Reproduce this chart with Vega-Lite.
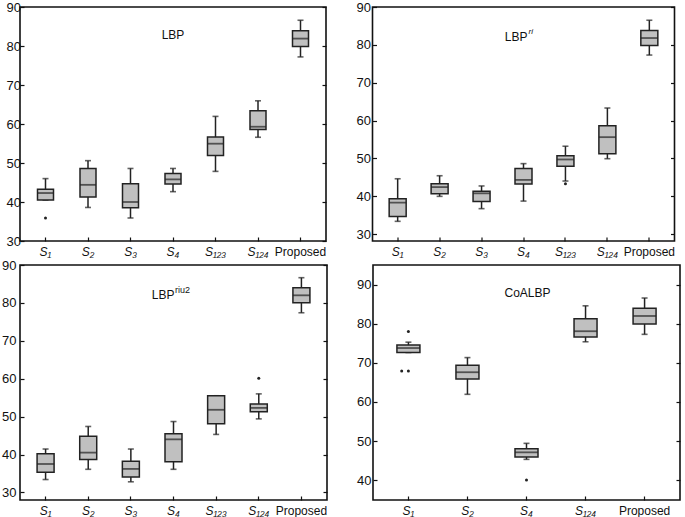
{
  "$schema": "https://vega.github.io/schema/vega-lite/v6.json",
  "padding": {"left": 0, "top": 0, "right": 1, "bottom": 0},
  "background": "white",
  "config": {
    "view": {"stroke": "#111", "strokeWidth": 1.6},
    "axis": {"domain": false, "grid": false, "title": null, "labelFont": "Liberation Sans", "labelColor": "#111", "tickColor": "#111", "tickSize": -4, "tickWidth": 1.2},
    "axisX": {"labelAngle": 0, "labelFontSize": 12, "labelPadding": 9},
    "axisY": {"labelFontSize": 13},
    "text": {"font": "Liberation Sans", "color": "#111"}
  },
  "datasets": {
    "b1": [
      {"c": "S₁", "lo": 40.5, "q1": 40.5, "md": 42.3, "q3": 43.25, "hi": 46.0},
      {"c": "S₂", "lo": 38.6, "q1": 41.3, "md": 44.4, "q3": 48.6, "hi": 50.6},
      {"c": "S₃", "lo": 35.9, "q1": 38.55, "md": 40.0, "q3": 44.7, "hi": 48.6},
      {"c": "S₄", "lo": 42.65, "q1": 44.6, "md": 45.8, "q3": 47.3, "hi": 48.6},
      {"c": "S₁₂₃", "lo": 47.85, "q1": 51.95, "md": 54.95, "q3": 56.65, "hi": 61.95},
      {"c": "S₁₂₄", "lo": 56.6, "q1": 58.6, "md": 59.3, "q3": 63.4, "hi": 65.95},
      {"c": "Proposed", "lo": 77.2, "q1": 79.85, "md": 81.9, "q3": 83.9, "hi": 86.6}
    ],
    "o1": [{"c": "S₁", "v": 35.9}],
    "b2": [
      {"c": "S₁", "lo": 33.35, "q1": 34.6, "md": 38.3, "q3": 39.3, "hi": 44.6},
      {"c": "S₂", "lo": 39.95, "q1": 40.65, "md": 42.4, "q3": 43.3, "hi": 45.4},
      {"c": "S₃", "lo": 36.7, "q1": 38.6, "md": 40.75, "q3": 41.3, "hi": 42.7},
      {"c": "S₄", "lo": 38.7, "q1": 43.2, "md": 44.3, "q3": 47.3, "hi": 48.6},
      {"c": "S₁₂₃", "lo": 44.0, "q1": 47.9, "md": 49.7, "q3": 50.7, "hi": 53.2},
      {"c": "S₁₂₄", "lo": 49.9, "q1": 51.2, "md": 55.6, "q3": 58.6, "hi": 63.3},
      {"c": "Proposed", "lo": 77.3, "q1": 79.8, "md": 81.8, "q3": 83.8, "hi": 86.5}
    ],
    "o2": [{"c": "S₁₂₃", "v": 43.3}],
    "b3": [
      {"c": "S₁", "lo": 33.4, "q1": 35.3, "md": 37.5, "q3": 40.2, "hi": 41.45},
      {"c": "S₂", "lo": 36.1, "q1": 38.7, "md": 40.5, "q3": 44.8, "hi": 47.4},
      {"c": "S₃", "lo": 32.8, "q1": 34.05, "md": 36.2, "q3": 38.2, "hi": 41.45},
      {"c": "S₄", "lo": 36.1, "q1": 38.1, "md": 44.0, "q3": 45.5, "hi": 48.7},
      {"c": "S₁₂₃", "lo": 45.3, "q1": 48.1, "md": 51.8, "q3": 55.5, "hi": 55.5},
      {"c": "S₁₂₄", "lo": 49.4, "q1": 51.3, "md": 52.3, "q3": 53.35, "hi": 56.0},
      {"c": "Proposed", "lo": 77.4, "q1": 80.05, "md": 82.0, "q3": 84.0, "hi": 86.65}
    ],
    "o3": [{"c": "S₁₂₄", "v": 60.1}],
    "b4": [
      {"c": "S₁", "lo": 72.65, "q1": 72.65, "md": 73.8, "q3": 74.6, "hi": 75.3},
      {"c": "S₂", "lo": 61.95, "q1": 65.9, "md": 67.6, "q3": 69.4, "hi": 71.35},
      {"c": "S₄", "lo": 45.3, "q1": 45.9, "md": 47.1, "q3": 48.0, "hi": 49.4},
      {"c": "S₁₂₄", "lo": 75.4, "q1": 76.65, "md": 78.1, "q3": 81.3, "hi": 84.6},
      {"c": "Proposed", "lo": 77.3, "q1": 79.95, "md": 82.0, "q3": 84.0, "hi": 86.6}
    ],
    "o4": [{"c": "S₁", "v": 78.0, "n": 0}, {"c": "S₁", "v": 67.95, "n": 0}, {"c": "S₁", "v": 67.95, "n": 1}, {"c": "S₄", "v": 40.0, "n": 0}]
  },
  "vconcat": [
    {
      "hconcat": [
        {
          "width": 306, "height": 234,
          "data": {"name": "b1"},
          "resolve": {"axis": {"y": "independent"}},
          "encoding": {"x": {"field": "c", "type": "nominal", "sort": ["S₁", "S₂", "S₃", "S₄", "S₁₂₃", "S₁₂₄", "Proposed"], "scale": {"paddingInner": 0, "paddingOuter": 0.1}, "axis": {"labelFontStyle": {"condition": {"test": "datum.value === 'Proposed'", "value": "normal"}, "value": "italic"}}}},
          "layer": [
            {"mark": {"type": "rule", "color": "#222", "strokeWidth": 1.5}, "encoding": {"y": {"field": "lo", "type": "quantitative", "scale": {"domain": [30, 90], "nice": false, "zero": false}, "axis": {"values": [30, 40, 50, 60, 70, 80, 90], "labelPadding": 3.5}}, "y2": {"field": "hi"}}},
            {"mark": {"type": "tick", "color": "#222", "size": 6, "thickness": 1.6}, "encoding": {"y": {"field": "lo", "type": "quantitative", "axis": {"orient": "right", "labels": false, "values": [30, 40, 50, 60, 70, 80, 90]}}}},
            {"mark": {"type": "tick", "color": "#222", "size": 6, "thickness": 1.6}, "encoding": {"y": {"field": "hi", "type": "quantitative", "axis": null}}},
            {"mark": {"type": "bar", "size": 16, "fill": "#c0c0c0", "stroke": "#222", "strokeWidth": 1.5}, "encoding": {"y": {"field": "q1", "type": "quantitative", "axis": null}, "y2": {"field": "q3"}}},
            {"mark": {"type": "tick", "color": "#222", "size": 16, "thickness": 1.8}, "encoding": {"y": {"field": "md", "type": "quantitative", "axis": null}}},
            {"data": {"name": "o1"}, "mark": {"type": "circle", "color": "#222", "size": 9, "opacity": 1}, "encoding": {"y": {"field": "v", "type": "quantitative", "axis": null}}},
            {"data": {"values": [{}]}, "mark": {"type": "text", "text": "LBP", "fontSize": 12, "align": "center", "baseline": "middle"}, "encoding": {"x": {"datum": "S₄"}, "y": {"datum": 82.7, "axis": null}}}
          ]
        },
        {
          "width": 302, "height": 234,
          "data": {"name": "b2"},
          "resolve": {"axis": {"y": "independent"}},
          "encoding": {"x": {"field": "c", "type": "nominal", "sort": ["S₁", "S₂", "S₃", "S₄", "S₁₂₃", "S₁₂₄", "Proposed"], "scale": {"paddingInner": 0, "paddingOuter": 0.1}, "axis": {"labelFontStyle": {"condition": {"test": "datum.value === 'Proposed'", "value": "normal"}, "value": "italic"}}}},
          "layer": [
            {"mark": {"type": "rule", "color": "#222", "strokeWidth": 1.5}, "encoding": {"y": {"field": "lo", "type": "quantitative", "scale": {"domain": [28.15, 90], "nice": false, "zero": false}, "axis": {"values": [30, 40, 50, 60, 70, 80, 90], "labelPadding": 6}}, "y2": {"field": "hi"}}},
            {"mark": {"type": "tick", "color": "#222", "size": 6, "thickness": 1.6}, "encoding": {"y": {"field": "lo", "type": "quantitative", "axis": {"orient": "right", "labels": false, "values": [30, 40, 50, 60, 70, 80, 90]}}}},
            {"mark": {"type": "tick", "color": "#222", "size": 6, "thickness": 1.6}, "encoding": {"y": {"field": "hi", "type": "quantitative", "axis": null}}},
            {"mark": {"type": "bar", "size": 17, "fill": "#c0c0c0", "stroke": "#222", "strokeWidth": 1.5}, "encoding": {"y": {"field": "q1", "type": "quantitative", "axis": null}, "y2": {"field": "q3"}}},
            {"mark": {"type": "tick", "color": "#222", "size": 17, "thickness": 1.8}, "encoding": {"y": {"field": "md", "type": "quantitative", "axis": null}}},
            {"data": {"name": "o2"}, "mark": {"type": "circle", "color": "#222", "size": 9, "opacity": 1}, "encoding": {"y": {"field": "v", "type": "quantitative", "axis": null}}},
            {"data": {"values": [{}]}, "mark": {"type": "text", "text": "LBP", "fontSize": 12, "align": "right", "baseline": "middle", "dx": 4}, "encoding": {"x": {"datum": "S₄"}, "y": {"datum": 82.0, "axis": null}}},
            {"data": {"values": [{}]}, "mark": {"type": "text", "text": "ri", "fontSize": 8, "fontStyle": "italic", "align": "left", "baseline": "middle", "dx": 5, "dy": -5}, "encoding": {"x": {"datum": "S₄"}, "y": {"datum": 82.0, "axis": null}}}
          ]
        }
      ],
      "spacing": 26.5
    },
    {
      "hconcat": [
        {
          "width": 307, "height": 235,
          "data": {"name": "b3"},
          "resolve": {"axis": {"y": "independent"}},
          "encoding": {"x": {"field": "c", "type": "nominal", "sort": ["S₁", "S₂", "S₃", "S₄", "S₁₂₃", "S₁₂₄", "Proposed"], "scale": {"paddingInner": 0, "paddingOuter": 0.1}, "axis": {"labelFontStyle": {"condition": {"test": "datum.value === 'Proposed'", "value": "normal"}, "value": "italic"}}}},
          "layer": [
            {"mark": {"type": "rule", "color": "#222", "strokeWidth": 1.5}, "encoding": {"y": {"field": "lo", "type": "quantitative", "scale": {"domain": [28, 90], "nice": false, "zero": false}, "axis": {"values": [30, 40, 50, 60, 70, 80, 90], "labelPadding": 8}}, "y2": {"field": "hi"}}},
            {"mark": {"type": "tick", "color": "#222", "size": 6, "thickness": 1.6}, "encoding": {"y": {"field": "lo", "type": "quantitative", "axis": {"orient": "right", "labels": false, "values": [30, 40, 50, 60, 70, 80, 90]}}}},
            {"mark": {"type": "tick", "color": "#222", "size": 6, "thickness": 1.6}, "encoding": {"y": {"field": "hi", "type": "quantitative", "axis": null}}},
            {"mark": {"type": "bar", "size": 17, "fill": "#c0c0c0", "stroke": "#222", "strokeWidth": 1.5}, "encoding": {"y": {"field": "q1", "type": "quantitative", "axis": null}, "y2": {"field": "q3"}}},
            {"mark": {"type": "tick", "color": "#222", "size": 17, "thickness": 1.8}, "encoding": {"y": {"field": "md", "type": "quantitative", "axis": null}}},
            {"data": {"name": "o3"}, "mark": {"type": "circle", "color": "#222", "size": 9, "opacity": 1}, "encoding": {"y": {"field": "v", "type": "quantitative", "axis": null}}},
            {"data": {"values": [{}]}, "mark": {"type": "text", "text": "LBP", "fontSize": 12, "align": "right", "baseline": "middle", "dx": 1}, "encoding": {"x": {"datum": "S₄"}, "y": {"datum": 82.2, "axis": null}}},
            {"data": {"values": [{}]}, "mark": {"type": "text", "text": "riu2", "fontSize": 9, "align": "left", "baseline": "middle", "dx": 1.5, "dy": -5}, "encoding": {"x": {"datum": "S₄"}, "y": {"datum": 82.2, "axis": null}}}
          ]
        },
        {
          "width": 307, "height": 235,
          "data": {"name": "b4"},
          "resolve": {"axis": {"y": "independent"}},
          "encoding": {"x": {"field": "c", "type": "nominal", "sort": ["S₁", "S₂", "S₄", "S₁₂₄", "Proposed"], "scale": {"paddingInner": 0, "paddingOuter": 0.1}, "axis": {"labelFontStyle": {"condition": {"test": "datum.value === 'Proposed'", "value": "normal"}, "value": "italic"}}}},
          "layer": [
            {"mark": {"type": "rule", "color": "#222", "strokeWidth": 1.5}, "encoding": {"y": {"field": "lo", "type": "quantitative", "scale": {"domain": [34.9, 95.05], "nice": false, "zero": false}, "axis": {"values": [40, 50, 60, 70, 80, 90], "labelPadding": 6}}, "y2": {"field": "hi"}}},
            {"mark": {"type": "tick", "color": "#222", "size": 6, "thickness": 1.6}, "encoding": {"y": {"field": "lo", "type": "quantitative", "axis": {"orient": "right", "labels": false, "values": [40, 50, 60, 70, 80, 90]}}}},
            {"mark": {"type": "tick", "color": "#222", "size": 6, "thickness": 1.6}, "encoding": {"y": {"field": "hi", "type": "quantitative", "axis": null}}},
            {"mark": {"type": "bar", "size": 23, "fill": "#c0c0c0", "stroke": "#222", "strokeWidth": 1.5}, "encoding": {"y": {"field": "q1", "type": "quantitative", "axis": null}, "y2": {"field": "q3"}}},
            {"mark": {"type": "tick", "color": "#222", "size": 23, "thickness": 1.8}, "encoding": {"y": {"field": "md", "type": "quantitative", "axis": null}}},
            {"data": {"name": "o4"}, "mark": {"type": "circle", "color": "#222", "size": 9, "opacity": 1}, "encoding": {"y": {"field": "v", "type": "quantitative", "axis": null}, "xOffset": {"field": "n", "type": "quantitative", "scale": {"domain": [0, 1], "range": [29.5, 22.8]}}}},
            {"data": {"values": [{}]}, "mark": {"type": "text", "text": "CoALBP", "fontSize": 12, "align": "center", "baseline": "middle", "dx": 1}, "encoding": {"x": {"datum": "S₄"}, "y": {"datum": 87.8, "axis": null}}}
          ]
        }
      ],
      "spacing": 26
    }
  ],
  "spacing": 0
}
